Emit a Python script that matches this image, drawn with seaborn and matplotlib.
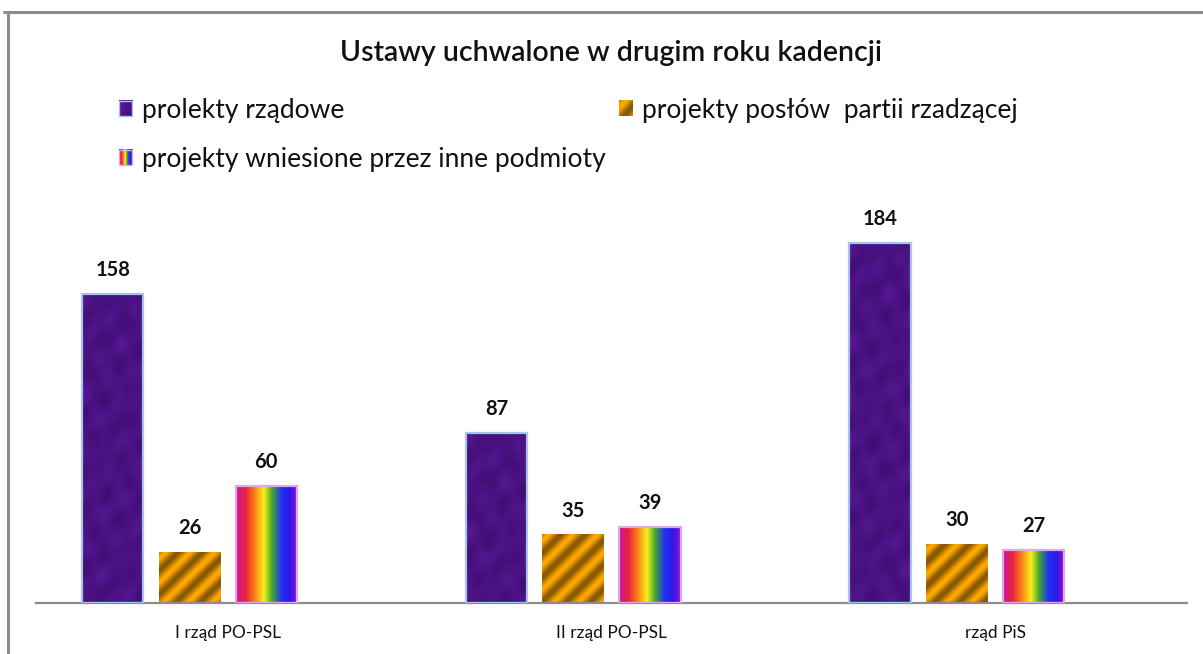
import numpy as np
import pandas as pd
import matplotlib
matplotlib.use("Agg")
import matplotlib.pyplot as plt
import seaborn as sns
from matplotlib.patches import Patch, Rectangle
from matplotlib.lines import Line2D
from matplotlib.legend_handler import HandlerBase
from matplotlib.image import BboxImage
from matplotlib.transforms import Bbox, TransformedBbox

# ---------------- data ----------------
title = "Ustawy uchwalone w drugim roku kadencji"
categories = ["I rząd PO-PSL", "II rząd PO-PSL", "rząd PiS"]
series_names = ["prolekty rządowe", "projekty posłów  partii rzadzącej",
                "projekty wniesione przez inne podmioty"]
empty_series = " "   # an empty 4th series slot, as in the original chart
rzadowe = [158, 87, 184]
poslowie = [26, 35, 30]
inne = [60, 39, 27]

# ---------------- style ----------------
sns.set_theme(style="white")
plt.rcParams["font.family"] = ["Lato", "DejaVu Sans"]

W, H = 1203, 654
fig = plt.figure(figsize=(W / 100, H / 100), dpi=100)
ax = fig.add_axes([36 / W, 1 - 603 / H, (1187 - 36) / W, (603 - 200) / H])

hue_levels = series_names + [empty_series]
df = pd.DataFrame({
    "kategoria": categories * 4,
    "seria": sum([[s] * 3 for s in hue_levels], []),
    "wartosc": rzadowe + poslowie + inne + [np.nan] * 3,
})

sns.barplot(data=df, x="kategoria", y="wartosc", hue="seria",
            order=categories, hue_order=hue_levels,
            width=0.8, gap=0.2, legend=False, ax=ax,
            palette=["#4a1482", "#e89a00", "#e0402a", "#ffffff"], saturation=1,
            linewidth=0, err_kws={"linewidth": 0})

ax.set_xlim(-0.5, 2.5)
ax.set_ylim(0, 206)
ax.set_xlabel("")
ax.set_ylabel("")
ax.set_yticks([])
for s in ["left", "right", "top"]:
    ax.spines[s].set_visible(False)
ax.spines["bottom"].set_color("#8c8c8c")
ax.spines["bottom"].set_linewidth(1.6)
ax.tick_params(axis="x", length=0, pad=16, labelsize=12.5, labelcolor="#111111")


# ---------------- textures ----------------
def tex_purple(w, h):
    x, y = np.meshgrid(np.arange(w), np.arange(h))
    n = (np.sin(x / 6.0 + 1.3) * np.cos(y / 8.0) +
         0.6 * np.sin((x + 2 * y) / 10.0) +
         0.5 * np.cos((3 * x - y) / 12.0 + 0.7) +
         0.35 * np.sin((x * 1.7 + y * 0.6) / 4.5))
    n = n / np.abs(n).max()
    base = np.array([74, 18, 130]) / 255.0
    amp = np.array([12, 5, 18]) / 255.0
    img = base[None, None, :] + n[..., None] * amp[None, None, :]
    return np.clip(img, 0, 1)


def tex_orange(w, h, period=24.0):
    x, r = np.meshgrid(np.arange(w), np.arange(h))
    t = 0.5 + 0.5 * np.sin(2 * np.pi * (x + r) / period)
    dark = np.array([135, 88, 0]) / 255.0
    bright = np.array([255, 168, 0]) / 255.0
    img = dark[None, None, :] + t[..., None] * (bright - dark)[None, None, :]
    return np.clip(img, 0, 1)


rb_pos = [0.0, 0.15, 0.30, 0.45, 0.58, 0.74, 0.88, 1.0]
rb_col = np.array([[200, 25, 150], [235, 35, 60], [250, 130, 20], [250, 240, 30],
                   [70, 170, 40], [30, 50, 245], [50, 20, 230], [150, 20, 200]]) / 255.0


def tex_rainbow(w, h):
    f = np.linspace(0, 1, max(w, 2))
    row = np.stack([np.interp(f, rb_pos, rb_col[:, c]) for c in range(3)], axis=-1)
    return np.repeat(row[None, :, :], max(h, 2), axis=0)


tex_funcs = [tex_purple, tex_orange, tex_rainbow]
edge_cols = ["#a9c2ea", "none", "#e0a6f0"]

for i, cont in enumerate(ax.containers[:3]):
    for bar in cont:
        if not np.isfinite(bar.get_height()):
            continue
        x0, y0 = bar.get_x(), bar.get_y()
        bw, bh = bar.get_width(), bar.get_height()
        p0 = ax.transData.transform((x0, y0))
        p1 = ax.transData.transform((x0 + bw, y0 + bh))
        wpx = max(int(round(p1[0] - p0[0])), 2)
        hpx = max(int(round(p1[1] - p0[1])), 2)
        ax.imshow(tex_funcs[i](wpx, hpx), extent=(x0, x0 + bw, y0, y0 + bh),
                  aspect="auto", interpolation="bilinear", zorder=2)
        bar.set_facecolor("none")
        bar.set_edgecolor(edge_cols[i])
        bar.set_linewidth(1.6 if edge_cols[i] != "none" else 0)
        bar.set_zorder(3)
    ax.bar_label(cont, labels=[str(int(v)) for v in cont.datavalues],
                 padding=10, fontsize=14.5, fontweight="bold", color="#111111")

ax.set_xlim(-0.5, 2.5)
ax.set_ylim(0, 206)
ax.set_aspect("auto")


# ---------------- legend ----------------
class TexHandler(HandlerBase):
    def __init__(self, img, edge):
        super().__init__()
        self.img = img
        self.edge = edge

    def create_artists(self, legend, orig_handle, xdescent, ydescent,
                       width, height, fontsize, trans):
        bb = TransformedBbox(Bbox.from_bounds(-xdescent, -ydescent, width, height), trans)
        im = BboxImage(bb, interpolation="bilinear")
        im.set_data(self.img)
        arts = [im]
        if self.edge != "none":
            r = Rectangle((-xdescent, -ydescent), width, height, facecolor="none",
                          edgecolor=self.edge, linewidth=1.0, transform=trans)
            arts.append(r)
        return arts


handles = [Patch(label=n) for n in series_names]
hmap = {handles[i]: TexHandler(tex_funcs[i](14, 14), edge_cols[i]) for i in range(3)}
order = [0, 2, 1]
fig.legend([handles[k] for k in order], [series_names[k] for k in order],
           handler_map=hmap, ncol=2, loc="upper left",
           bbox_to_anchor=(119 / W, 1 - 98 / H), frameon=False,
           fontsize=19, handlelength=0.5, handleheight=0.5,
           handletextpad=0.38, columnspacing=0.5, labelspacing=0.92,
           borderpad=0, borderaxespad=0, labelcolor="#111111")

# ---------------- title ----------------
fig.text(611 / W, 1 - 53 / H, title, ha="center", va="center",
         fontsize=20.5, fontweight="semibold", color="#111111")

# ---------------- outer frame ----------------
fig.add_artist(Line2D([8 / W, 8 / W], [0, 1 - 12 / H], transform=fig.transFigure,
                      color="#8c8c8c", linewidth=2.2))
fig.add_artist(Line2D([4 / W, 1], [1 - 12 / H, 1 - 12 / H], transform=fig.transFigure,
                      color="#8c8c8c", linewidth=2.2))

fig.savefig("out.png", dpi=100)
